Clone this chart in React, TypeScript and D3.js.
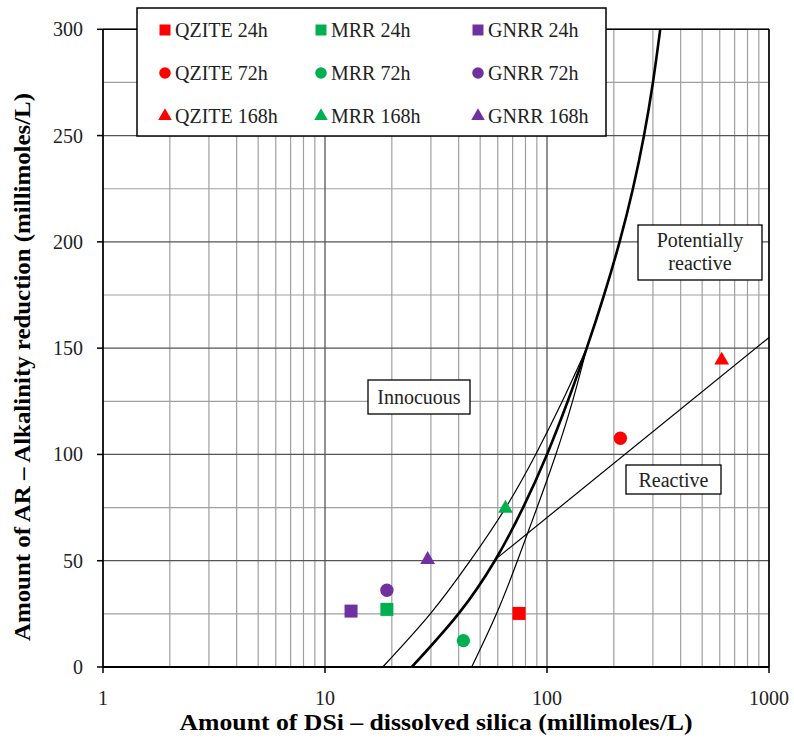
import React from 'react';
import * as d3 from 'd3';

const W = 794;
const H = 744;

const xTicks = [1, 10, 100, 1000];
const yTicks = [0, 50, 100, 150, 200, 250, 300];
const yMinorTicks = [25, 75, 125, 175, 225, 275];

const seriesNames = ['QZITE 24h', 'MRR 24h', 'GNRR 24h', 'QZITE 72h', 'MRR 72h', 'GNRR 72h', 'QZITE 168h', 'MRR 168h', 'GNRR 168h'];
const seriesColors = ['#FF0000', '#00B050', '#7030A0', '#FF0000', '#00B050', '#7030A0', '#FF0000', '#00B050', '#7030A0'];
const seriesShapes = ['square', 'square', 'square', 'circle', 'circle', 'circle', 'triangle', 'triangle', 'triangle'];
const dsiValues = [74.8, 19.0, 13.1, 214, 42, 19.0, 612, 65, 29];
const arValues = [25.2, 27.1, 26.3, 107.6, 12.4, 36.1, 144.3, 74.6, 50.5];

// Boundary curves (DSi, AR)
const thickCurve: [number, number][] = [
  [24.6, 0], [39.9, 25], [58.2, 50], [78, 75], [100, 100], [124, 125], [151, 150], [180.7, 175], [212.3, 200], [243.8, 225], [273.5, 250], [300, 275], [323.6, 300],
];
const leftThinCurve: [number, number][] = [
  [18.2, 0], [29.8, 25], [45.1, 50], [65.2, 75], [88.9, 100], [117.2, 125], [151, 150],
];
const rightThinCurve: [number, number][] = [
  [45.8, 0], [59.2, 25], [73.6, 50], [90.2, 75], [109.6, 100], [130.3, 125], [151, 150],
];
const reactiveLine: [number, number][] = [[58.2, 50.4], [1000, 155]];

const regionLabels = [
  { lines: ['Innocuous'], box: [368, 380, 470, 414] },
  { lines: ['Reactive'], box: [626, 465, 721, 494] },
  { lines: ['Potentially', 'reactive'], box: [638, 225, 762, 280] },
];

const FONT = '"Liberation Serif", "DejaVu Serif", serif';

function symbolPath(shape: string, size: number) {
  const t = shape === 'square' ? d3.symbolSquare : shape === 'circle' ? d3.symbolCircle : d3.symbolTriangle;
  return d3.symbol().type(t).size(size)() as string;
}

export default function App() {
  const left = 103, right = 769, top = 29.3, bottom = 667;
  const x = d3.scaleLog().domain([1, 1000]).range([left, right]);
  const y = d3.scaleLinear().domain([0, 300]).range([bottom, top]);

  const minorX: number[] = [];
  for (let d = 1; d < 1000; d *= 10) {
    for (let k = 2; k <= 9; k++) minorX.push(d * k);
  }

  const curve = d3.line<[number, number]>().x((d) => x(d[0])).y((d) => y(d[1])).curve(d3.curveNatural);
  const straight = d3.line<[number, number]>().x((d) => x(d[0])).y((d) => y(d[1]));

  const markerSize = (s: string) => (s === 'square' ? 169 : s === 'circle' ? 140 : 95);
  const legendSize = (s: string) => (s === 'square' ? 121 : s === 'circle' ? 105 : 80);

  const legendCols = [165, 321, 478];
  const legendRows = [30, 73, 116];

  return (
    <svg width={W} height={H} style={{ position: 'absolute', left: 0, top: 0, background: '#fff' }} fontFamily={FONT}>
      <rect x={0} y={0} width={W} height={H} fill="#fff" />
      {/* grid */}
      {minorX.map((v) => (
        <line key={'mx' + v} x1={x(v)} x2={x(v)} y1={top} y2={bottom} stroke="#a0a0a0" strokeWidth={1.2} />
      ))}
      {yMinorTicks.map((v) => (
        <line key={'my' + v} x1={left} x2={right} y1={y(v)} y2={y(v)} stroke="#a0a0a0" strokeWidth={1.2} />
      ))}
      {xTicks.map((v) => (
        <line key={'gx' + v} x1={x(v)} x2={x(v)} y1={top} y2={bottom} stroke="#555" strokeWidth={1.3} />
      ))}
      {yTicks.map((v) => (
        <line key={'gy' + v} x1={left} x2={right} y1={y(v)} y2={y(v)} stroke="#555" strokeWidth={1.3} />
      ))}
      {/* frame */}
      <line x1={left} x2={right} y1={top} y2={top} stroke="#000" strokeWidth={1.5} />
      <line x1={right} x2={right} y1={top} y2={bottom} stroke="#000" strokeWidth={1.5} />
      {/* curves */}
      <path d={curve(leftThinCurve) as string} fill="none" stroke="#000" strokeWidth={1.2} />
      <path d={curve(rightThinCurve) as string} fill="none" stroke="#000" strokeWidth={1.2} />
      <path d={straight(reactiveLine) as string} fill="none" stroke="#000" strokeWidth={1.2} />
      <path d={curve(thickCurve) as string} fill="none" stroke="#000" strokeWidth={2.6} />
      {/* axes */}
      <line x1={left} x2={left} y1={top} y2={bottom} stroke="#000" strokeWidth={1.6} />
      <line x1={left} x2={right} y1={bottom} y2={bottom} stroke="#000" strokeWidth={2} />
      {yTicks.map((v) => (
        <g key={'yt' + v}>
          <line x1={left - 6} x2={left} y1={y(v)} y2={y(v)} stroke="#000" strokeWidth={1.5} />
          <text x={83} y={y(v)} dy="0.35em" textAnchor="end" fontSize={20} fill="#222">{v}</text>
        </g>
      ))}
      {xTicks.map((v) => (
        <g key={'xt' + v}>
          <line x1={x(v)} x2={x(v)} y1={bottom} y2={bottom + 6} stroke="#000" strokeWidth={1.5} />
          <text x={x(v)} y={705} textAnchor="middle" fontSize={20} fill="#222">{v}</text>
        </g>
      ))}
      {/* data */}
      {dsiValues.map((v, i) => (
        <path
          key={'pt' + i}
          transform={`translate(${x(v)},${y(arValues[i])})`}
          d={symbolPath(seriesShapes[i], markerSize(seriesShapes[i]))}
          fill={seriesColors[i]}
        />
      ))}
      {/* region labels */}
      {regionLabels.map((r, i) => (
        <g key={'rl' + i}>
          <rect x={r.box[0]} y={r.box[1]} width={r.box[2] - r.box[0]} height={r.box[3] - r.box[1]} fill="#fff" stroke="#000" strokeWidth={1.3} />
          {r.lines.map((t, j) => (
            <text
              key={j}
              x={(r.box[0] + r.box[2]) / 2}
              y={r.lines.length === 1 ? (r.box[1] + r.box[3]) / 2 : r.box[1] + 22 + j * 23}
              dy={r.lines.length === 1 ? '0.35em' : 0}
              textAnchor="middle"
              fontSize={20}
              fill="#222"
            >
              {t}
            </text>
          ))}
        </g>
      ))}
      {/* legend */}
      <rect x={137} y={8} width={469} height={128} fill="#fff" stroke="#000" strokeWidth={1.5} />
      {seriesNames.map((n, i) => {
        const cx = legendCols[i % 3];
        const cy = legendRows[Math.floor(i / 3)];
        return (
          <g key={'lg' + i}>
            <path transform={`translate(${cx},${cy})`} d={symbolPath(seriesShapes[i], legendSize(seriesShapes[i]))} fill={seriesColors[i]} />
            <text x={cx + 10} y={cy + 6.5} fontSize={20} fill="#222">{n}</text>
          </g>
        );
      })}
      {/* axis titles */}
      <text x={436} y={730} textAnchor="middle" fontSize={23} fontWeight="bold" fill="#000" textLength={513} lengthAdjust="spacingAndGlyphs">
        Amount of DSi – dissolved silica (millimoles/L)
      </text>
      <text transform="translate(30,367) rotate(-90)" textAnchor="middle" fontSize={23} fontWeight="bold" fill="#000" textLength={548} lengthAdjust="spacingAndGlyphs">
        Amount of AR – Alkalinity reduction (millimoles/L)
      </text>
    </svg>
  );
}
